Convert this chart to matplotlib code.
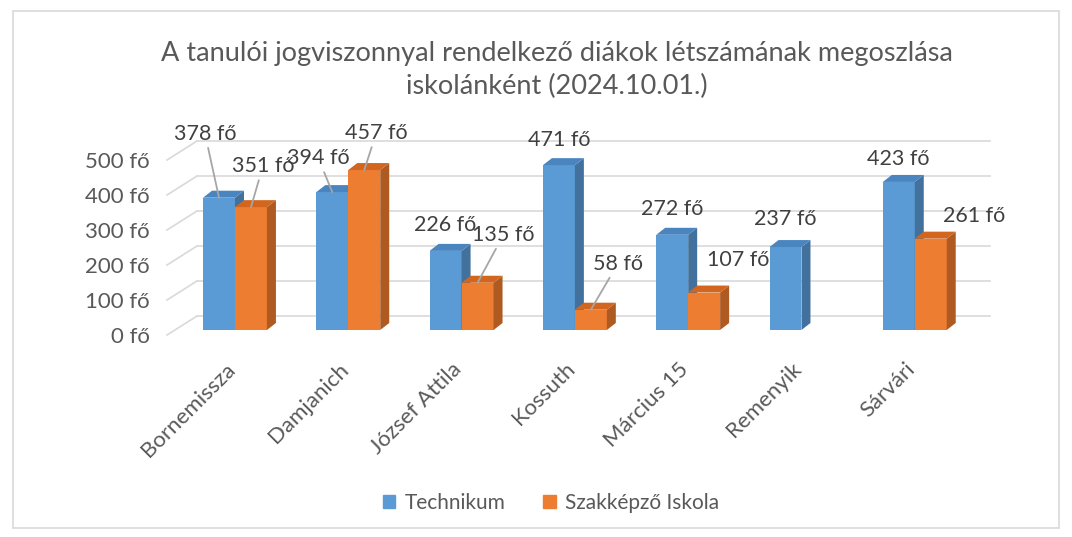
import numpy as np
import matplotlib
matplotlib.use("Agg")
import matplotlib.pyplot as plt
from matplotlib.patches import Polygon, Rectangle

plt.rcParams['font.family'] = ['Lato', 'DejaVu Sans']

# data
schools = ["Bornemissza", "Damjanich", "József Attila", "Kossuth", "Március 15", "Remenyik", "Sárvári"]
technikum = [378, 394, 226, 471, 272, 237, 423]
szakkepzo = [351, 457, 135, 58, 107, np.nan, 261]
series_names = ["Technikum", "Szakképző Iskola"]
y_ticks = [0, 100, 200, 300, 400, 500]

# label offsets (pixels, from top of bar) and whether a leader line is drawn
tech_offsets = [(-14, 64), (-14, 34), (0, 26), (0, 25), (0, 26), (0, 28), (-1, 23)]
tech_leader = [True, True, False, False, False, False, False]
szak_offsets = [(12, 41), (12, 37), (26, 48), (27, 46), (34, 33), None, (43, 23)]
szak_leader = [True, True, True, True, False, False, False]

W, H = 1072, 537
fig = plt.figure(figsize=(W / 100, H / 100), dpi=100)

# plot area in pixels
left_px, right_px, zero_px, top_px = 167, 990, 330, 155
ax = fig.add_axes([left_px / W, (H - zero_px) / H, (right_px - left_px) / W, (zero_px - top_px) / H])
x0, x1 = -0.600, 6.664
ax.set_xlim(x0, x1)
ax.set_ylim(0, 500)
ax.axis("off")

# pixel -> data conversion
px_x = (x1 - x0) / (right_px - left_px)
px_y = 500 / (zero_px - top_px)

grid_col = "#d9d9d9"
wall_dx, wall_dy = 30, 14
for v in y_ticks:
    ax.plot([x0, x0 + wall_dx * px_x], [v - 5 * px_y, v + wall_dy * px_y],
            color=grid_col, lw=1.2, clip_on=False, zorder=0)
    ax.plot([x0 + wall_dx * px_x, x1], [v + wall_dy * px_y] * 2,
            color=grid_col, lw=1.2, clip_on=False, zorder=0)
    ax.annotate(f"{v} fő", xy=(0, v), xycoords=("axes fraction", "data"), xytext=(-17, -7),
                textcoords="offset pixels", ha="right", va="center", fontsize=16, color="#595959",
                annotation_clip=False)

x = np.arange(len(schools))
w = 0.282
depth_x, depth_y = 9 * px_x, 7 * px_y

styles = [
    {"front": "#5B9BD5", "side": "#41719C", "top": "#4A85C0"},
    {"front": "#ED7D31", "side": "#AE5A21", "top": "#D2661F"},
]

def draw_3d_bars(xs, vals, st, z):
    for xc, v in zip(xs, vals):
        if np.isnan(v):
            continue
        l, r = xc - w / 2, xc + w / 2
        ax.bar(xc, v, width=w, color=st["front"], zorder=z)
        ax.add_patch(Polygon([(r, 0), (r + depth_x, depth_y), (r + depth_x, v + depth_y), (r, v)],
                             closed=True, color=st["side"], zorder=z, lw=0))
        ax.add_patch(Polygon([(l, v), (l + depth_x, v + depth_y), (r + depth_x, v + depth_y), (r, v)],
                             closed=True, color=st["top"], zorder=z, lw=0))

tech_x = x - w / 2
szak_x = x + w / 2
draw_3d_bars(tech_x, technikum, styles[0], 2)
draw_3d_bars(szak_x, szakkepzo, styles[1], 3)

def add_labels(xs, vals, offsets, leaders):
    for xc, v, off, ld in zip(xs, vals, offsets, leaders):
        if np.isnan(v) or off is None:
            continue
        ap = dict(arrowstyle="-", color="#a6a6a6", lw=1.3, shrinkA=1, shrinkB=0) if ld else None
        ax.annotate(f"{int(v)} fő", xy=(xc, v), xytext=off, textcoords="offset pixels",
                    ha="center", va="center", fontsize=15.5, color="#404040",
                    arrowprops=ap, zorder=5, annotation_clip=False)

add_labels(tech_x, technikum, tech_offsets, tech_leader)
add_labels(szak_x, szakkepzo, szak_offsets, szak_leader)

# category labels
for xc, name in zip(x, schools):
    ax.annotate(name, xy=(xc, 0), xytext=(-3, -36), textcoords="offset pixels",
                rotation=45, ha="right", va="center", rotation_mode="anchor",
                fontsize=16, color="#595959", annotation_clip=False)

fig.text(557 / W, 1 - 70 / H,
         "A tanulói jogviszonnyal rendelkező diákok létszámának megoszlása\niskolánként (2024.10.01.)",
         ha="center", va="center", fontsize=19.5, color="#595959", linespacing=1.4)

handles = [Rectangle((0, 0), 1, 1, color=styles[0]["front"]), Rectangle((0, 0), 1, 1, color=styles[1]["front"])]
fig.legend(handles, series_names, loc="center", bbox_to_anchor=(551 / W, 1 - 503 / H), ncol=2,
           frameon=False, fontsize=15, handlelength=0.6, handleheight=0.6, handletextpad=0.45,
           columnspacing=1.8, labelcolor="#595959")

# outer chart border
fig.patches.append(Rectangle((13 / W, 1 - 528 / H), (1059 - 13) / W, (528 - 11) / H,
                             transform=fig.transFigure, fill=False, edgecolor="#d9d9d9", lw=1.2))

fig.savefig("out.png", dpi=100)
